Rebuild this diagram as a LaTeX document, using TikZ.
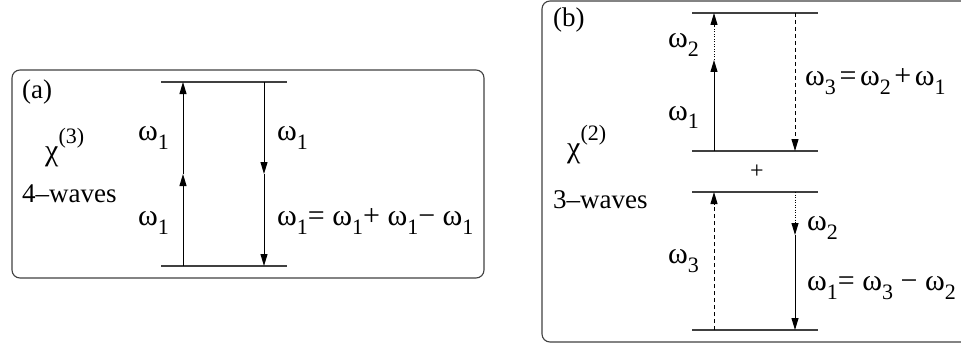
\documentclass[tikz,border=0pt]{standalone}
\usepackage{fontspec}
\setmainfont{Liberation Serif}
\usetikzlibrary{arrows.meta}
\newcommand{\om}[1]{ω\raisebox{-0.3em}{\fontsize{22}{22}\selectfont #1}}
\newcommand{\chiup}[1]{χ\raisebox{0.55em}{\fontsize{22}{22}\selectfont (#1)}}

\begin{document}
\begin{tikzpicture}[x=1pt, y=-1pt,
    level/.style={line width=1.1pt, black!75},
    panel/.style={line width=1.1pt, black!75, rounded corners=8pt},
    photon/.style={line width=1pt, -{Triangle[length=12pt,width=7pt]}},
    dots/.style={dash pattern=on 1pt off 1.5pt},
    dashes/.style={dash pattern=on 4pt off 3pt},
    lbl/.style={anchor=base west, inner sep=0pt, font=\fontsize{30}{32}\selectfont},
    small/.style={anchor=base west, inner sep=0pt, font=\fontsize{27}{29}\selectfont}]
    \useasboundingbox (0,0) rectangle (961,345);
    \clip (0,0) rectangle (961,345);
    % Panel (a): chi(3)
        \draw[panel] (12,70) rectangle (484,278);
        \draw[level] (161,82) -- (287,82);
        \draw[level] (161,266) -- (287,266);
        \coordinate (a1) at (183,266);
        \coordinate (a2) at (183,174);
        \coordinate (a3) at (183,82);
        \coordinate (a4) at (264,82);
        \coordinate (a5) at (264,174);
        \coordinate (a6) at (264,266);
        \draw[photon] (a1) -- (a2);
        \draw[photon] (a2) -- (a3);
        \draw[photon] (a4) -- (a5);
        \draw[photon] (a5) -- (a6);
    % Labels of panel (a).
        \node[small] (alab) at (22,98) {(a)};
        \node[lbl] (achi) at (45,160) {\chiup{3}};
        \node[small] (awav) at (22,202) {4–waves};
        \node[lbl] (aw1) at (138,140) {\om{1}};
        \node[lbl] (aw2) at (138,225) {\om{1}};
        \node[lbl] (aw3) at (277,140) {\om{1}};
        \node[lbl] (aeq) at (277,225) {\om{1}= \om{1}+ \om{1}− \om{1}};
    % Panel (b): chi(2)
        \draw[panel] (542,1) rectangle (1000,342);
        \draw[level] (692,13) -- (818,13);
        \draw[level] (692,151) -- (818,151);
        \draw[level] (692,192) -- (818,192);
        \draw[level] (692,330) -- (818,330);
        \coordinate (b1) at (714,151);
        \coordinate (b2) at (714,60);
        \coordinate (b3) at (714,13);
        \coordinate (b4) at (795,13);
        \coordinate (b5) at (795,151);
        \coordinate (b6) at (714,330);
        \coordinate (b7) at (714,192);
        \coordinate (b8) at (795,192);
        \coordinate (b9) at (795,235);
        \coordinate (b10) at (795,330);
        \draw[photon] (b1) -- (b2);
        \draw[photon, dots] (b2) -- (b3);
        \draw[photon, dashes] (b4) -- (b5);
        \draw[photon, dashes] (b6) -- (b7);
        \draw[photon, dots] (b8) -- (b9);
        \draw[photon] (b9) -- (b10);
    % Labels of panel (b).
        \node[small] (blab) at (553,27) {(b)};
        \node[lbl] (bchi) at (567,157) {\chiup{2}};
        \node[small] (bwav) at (553,208) {3–waves};
        \node[font=\fontsize{24}{24}\selectfont] (plus) at (757,172) {+};
        \node[lbl] (bw2) at (668,48) {\om{2}};
        \node[lbl] (bw1) at (668,120) {\om{1}};
        \node[lbl] (beq1) at (805,85) {\om{3}\hspace{0.12em}=\hspace{0.12em}\om{2}\hspace{0.12em}+\hspace{0.12em}\om{1}};
        \node[lbl] (bw2b) at (807,230) {\om{2}};
        \node[lbl] (bw3) at (668,263) {\om{3}};
        \node[lbl] (beq2) at (807,290) {\om{1}= \om{3} − \om{2}};
\end{tikzpicture}
\end{document}
